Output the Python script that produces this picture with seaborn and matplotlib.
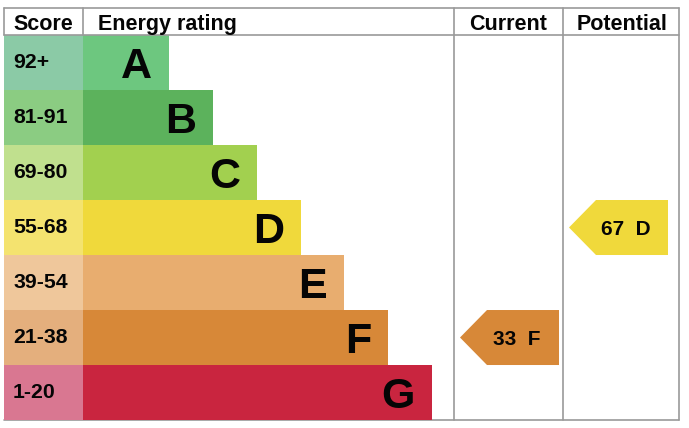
import numpy as np
import matplotlib
matplotlib.use('Agg')
import matplotlib.pyplot as plt
import seaborn as sns

# %% data
ratings = ['A', 'B', 'C', 'D', 'E', 'F', 'G']
score_bands = ['92+', '81-91', '69-80', '55-68', '39-54', '21-38', '1-20']
bar_lengths = [86, 130, 174, 218, 261, 305, 349]
bar_colors = ['#6dc77f', '#5cb25c', '#a2d04f', '#f0d93b', '#e8ad6f', '#d78838', '#c9253f']
score_colors = ['#8bcaa6', '#8bcc82', '#c0e08e', '#f4e36f', '#efc79b', '#e4af7d', '#d97791']

current_score, current_rating = 33, 'F'
potential_score, potential_rating = 67, 'D'

headers = ['Score', 'Energy rating', 'Current', 'Potential']

# %% layout (x in pixels measured from the start of the rating bars, y in rows)
score_left = -79
cur_left, pot_left, right_edge = 371, 480, 596
header_top = -0.991
line_col = '#9a9a9a'
txt_col = '#050505'

sns.set_theme(style='white')
plt.rcParams['font.family'] = ['Liberation Sans', 'DejaVu Sans']
plt.rcParams['font.weight'] = 'bold'

fig = plt.figure(figsize=(6.89, 4.28), dpi=100)
ax = fig.add_axes([0, 0, 1, 1])

sns.barplot(x=bar_lengths, y=ratings, hue=ratings, palette=bar_colors,
            saturation=1, width=1, linewidth=0, legend=False, orient='h', ax=ax)
ax.barh(np.arange(len(ratings)), -score_left, left=score_left, height=1,
        color=score_colors, linewidth=0)

for i, (band, rating, length) in enumerate(zip(score_bands, ratings, bar_lengths)):
    ax.text(score_left + 9, i + 0.1, band, fontsize=15.3, fontweight='bold',
            ha='left', va='baseline', color=txt_col)
    ax.text(length - 17, i + 0.282, rating, fontsize=31, fontweight='bold',
            ha='right', va='baseline', color=txt_col)


def draw_arrow(col_left, score, rating):
    row = ratings.index(rating)
    tip = col_left + 6
    xs = [tip, tip + 27, tip + 99, tip + 99, tip + 27]
    ys = [row, row - 0.5, row - 0.5, row + 0.5, row + 0.5]
    ax.fill(xs, ys, color=bar_colors[row], linewidth=0)
    ax.text(tip + 57, row + 0.13, f'{score}  {rating}', fontsize=15,
            fontweight='bold', ha='center', va='baseline', color=txt_col)


draw_arrow(cur_left, current_score, current_rating)
draw_arrow(pot_left, potential_score, potential_rating)

# table lines
lw = 1.2
ax.plot([score_left, right_edge], [header_top, header_top], color=line_col, lw=lw)
ax.plot([score_left, right_edge], [-0.5, -0.5], color=line_col, lw=lw)
ax.plot([score_left, right_edge], [6.5, 6.5], color=line_col, lw=lw, zorder=0.5)
ax.plot([score_left, score_left], [header_top, -0.5], color=line_col, lw=lw)
ax.plot([0, 0], [header_top, -0.5], color=line_col, lw=lw)
for xc in (cur_left, pot_left, right_edge):
    ax.plot([xc, xc], [header_top, 6.5], color=line_col, lw=lw)

# headers
hy = -0.591
ax.text(score_left + 9, hy, headers[0], fontsize=15.5, ha='left', va='baseline', color=txt_col)
ax.text(15, hy, headers[1], fontsize=15.5, ha='left', va='baseline', color=txt_col)
ax.text((cur_left + pot_left) / 2, hy, headers[2], fontsize=15.5, ha='center', va='baseline', color=txt_col)
ax.text((pot_left + right_edge) / 2 + 1, hy, headers[3], fontsize=15.5, ha='center', va='baseline', color=txt_col)

ax.set_xlim(-83, 606)
ax.set_ylim(6.645, -1.136)
ax.axis('off')

plt.savefig('out.png', dpi=100)
